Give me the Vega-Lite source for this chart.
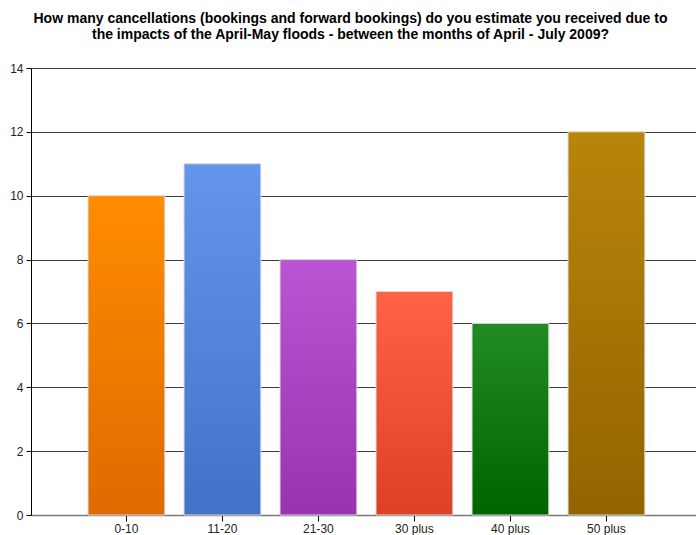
{
  "$schema": "https://vega.github.io/schema/vega-lite/v6.json",
  "width": 665,
  "height": 447,
  "autosize": "none",
  "padding": {"left": 31, "top": 68, "right": 0, "bottom": 20},
  "background": "white",
  "config": {
    "font": "Liberation Sans",
    "view": {"stroke": null}
  },
  "title": {
    "text": [
      "How many cancellations (bookings and forward bookings) do you estimate you received due to",
      "the impacts of the April-May floods - between the months of April - July 2009?"
    ],
    "font": "Liberation Sans",
    "fontSize": 14,
    "fontWeight": "bold",
    "color": "#000000",
    "anchor": "middle",
    "dx": -13,
    "offset": 20,
    "lineHeight": 16
  },
  "data": {
    "values": [
      {"range": "0-10", "count": 10},
      {"range": "11-20", "count": 11},
      {"range": "21-30", "count": 8},
      {"range": "30 plus", "count": 7},
      {"range": "40 plus", "count": 6},
      {"range": "50 plus", "count": 12}
    ]
  },
  "encoding": {
    "x": {
      "field": "range",
      "type": "nominal",
      "sort": null,
      "scale": {
        "domain": ["0-10", "11-20", "21-30", "30 plus", "40 plus", "50 plus"],
        "paddingInner": 0.2,
        "paddingOuter": 0.5635,
        "align": 0.527
      },
      "axis": {
        "title": null,
        "labelAngle": 0,
        "labelFontSize": 12,
        "labelColor": "#222222",
        "labelPadding": 2,
        "domainColor": "#777777",
        "domainWidth": 1.5,
        "tickColor": "#000000",
        "tickSize": 6,
        "grid": false
      }
    },
    "y": {
      "field": "count",
      "type": "quantitative",
      "scale": {"domain": [0, 14], "nice": false},
      "axis": {
        "title": null,
        "values": [0, 2, 4, 6, 8, 10, 12, 14],
        "labelFontSize": 12,
        "labelColor": "#222222",
        "labelPadding": 3,
        "domainColor": "#000000",
        "tickColor": "#000000",
        "tickSize": 5,
        "grid": true,
        "gridColor": "#3a3a3a",
        "gridWidth": 1
      }
    }
  },
  "layer": [
    {
      "transform": [{"filter": "datum.range === '0-10'"}],
      "mark": {"type": "bar", "stroke": "#d8d8d8", "strokeWidth": 1,
        "fill": {"gradient": "linear", "x1": 0, "y1": 0, "x2": 0, "y2": 1,
          "stops": [{"offset": 0, "color": "#ff8c00"}, {"offset": 1, "color": "#df6a00"}]}}
    },
    {
      "transform": [{"filter": "datum.range === '11-20'"}],
      "mark": {"type": "bar", "stroke": "#d8d8d8", "strokeWidth": 1,
        "fill": {"gradient": "linear", "x1": 0, "y1": 0, "x2": 0, "y2": 1,
          "stops": [{"offset": 0, "color": "#6495ed"}, {"offset": 1, "color": "#4272c8"}]}}
    },
    {
      "transform": [{"filter": "datum.range === '21-30'"}],
      "mark": {"type": "bar", "stroke": "#d8d8d8", "strokeWidth": 1,
        "fill": {"gradient": "linear", "x1": 0, "y1": 0, "x2": 0, "y2": 1,
          "stops": [{"offset": 0, "color": "#ba55d3"}, {"offset": 1, "color": "#9933b0"}]}}
    },
    {
      "transform": [{"filter": "datum.range === '30 plus'"}],
      "mark": {"type": "bar", "stroke": "#d8d8d8", "strokeWidth": 1,
        "fill": {"gradient": "linear", "x1": 0, "y1": 0, "x2": 0, "y2": 1,
          "stops": [{"offset": 0, "color": "#ff6347"}, {"offset": 1, "color": "#dc4025"}]}}
    },
    {
      "transform": [{"filter": "datum.range === '40 plus'"}],
      "mark": {"type": "bar", "stroke": "#d8d8d8", "strokeWidth": 1,
        "fill": {"gradient": "linear", "x1": 0, "y1": 0, "x2": 0, "y2": 1,
          "stops": [{"offset": 0, "color": "#228b22"}, {"offset": 1, "color": "#006400"}]}}
    },
    {
      "transform": [{"filter": "datum.range === '50 plus'"}],
      "mark": {"type": "bar", "stroke": "#d8d8d8", "strokeWidth": 1,
        "fill": {"gradient": "linear", "x1": 0, "y1": 0, "x2": 0, "y2": 1,
          "stops": [{"offset": 0, "color": "#b8860b"}, {"offset": 1, "color": "#936300"}]}}
    }
  ]
}
